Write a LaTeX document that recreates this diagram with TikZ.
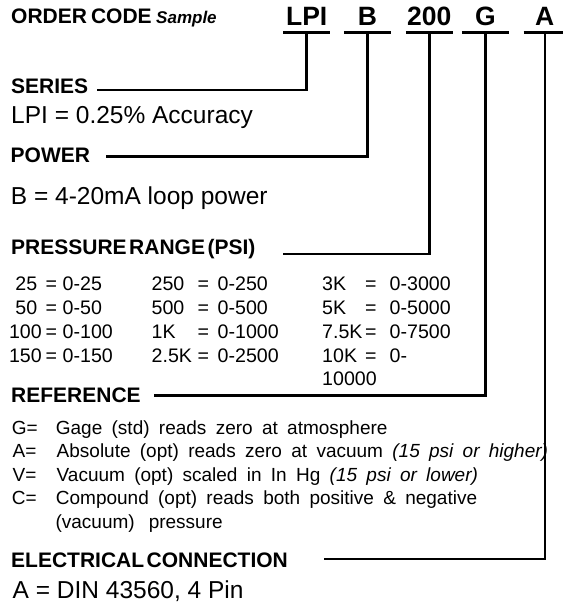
\documentclass[tikz,border=0pt]{standalone}
\usepackage{fontspec}
\setmainfont{Liberation Sans}
\usetikzlibrary{positioning}
\newcommand\headfont{\bfseries\fontsize{21}{24}\selectfont\spaceskip=2.5pt\relax}
\newcommand\reffont{\fontsize{19}{23}\selectfont\spaceskip=9.3pt\relax}

\begin{document}
\begin{tikzpicture}[x=1pt,y=-1pt,
  every node/.style={inner sep=0pt,anchor=base west},
  head/.style={font=\headfont},
  big/.style={font=\fontsize{24.5}{28}\selectfont},
  tab/.style={font=\fontsize{19.6}{23}\selectfont},
  reftext/.style={font=\reffont},
  code/.style={font=\bfseries\fontsize{26.5}{30}\selectfont,anchor=base,
               text depth=6.6pt,minimum width=46.7pt},
  conn/.style={line width=2.6pt}]
\useasboundingbox (0,0) rectangle (562,604);

% order code sample
\node[head] (order) at (11,24) {ORDER\hspace{4pt}CODE\hspace{4.5pt}{\fontsize{17}{20}\selectfont\itshape Sample}};
\node[code] (cLPI) at (306.7,25.7) {LPI};
\node[code] (cB) at (367.5,25.7) {B};
\node[code] (c200) at (429.3,25.7) {200};
\node[code] (cG) at (485.3,25.7) {G};
\node[code,minimum width=42pt] (cA) at (544.7,25.7) {A};

% sections
\node[head] (series) at (11,94) {SERIES};
\node[big] (lpi) at (11,124) {LPI = 0.25\% Accuracy};
\node[head] (power) at (10.5,162.7) {POWER};
\node[big] (loop) at (10.7,204.5) {B = 4-20mA loop power};
\node[head] (range) at (11,254) {PRESSURE RANGE (PSI)};
\node[head] (reference) at (11,402.5) {REFERENCE};
\node[head] (elec) at (11,567.3) {ELECTRICAL CONNECTION};
\node[big] (din) at (12.5,598.3) {A = DIN 43560, 4 Pin};

% pressure ranges
\foreach \i/\y/\xa/\na/\ra/\nb/\rb/\nc/\rc in {
  1/290.7/15.2/25/0-25/250/0-250/3K/0-3000,
  2/314.5/15.2/50/0-50/500/0-500/5K/0-5000,
  3/338.3/8.9/100/0-100/1K/0-1000/7.5K/0-7500,
  4/362.1/8.9/150/0-150/2.5K/0-2500/10K/0-}
{
  \node[tab] (na\i) at (\xa,\y) {\na};
  \node[tab] (ea\i) at (45.5,\y) {=};
  \node[tab] (ra\i) at (62.5,\y) {\ra};
  \node[tab] (nb\i) at (151.5,\y) {\nb};
  \node[tab] (eb\i) at (197.5,\y) {=};
  \node[tab] (rb\i) at (217.5,\y) {\rb};
  \node[tab] (nc\i) at (322,\y) {\nc};
  \node[tab] (ec\i) at (365,\y) {=};
  \node[tab] (rc\i) at (389.5,\y) {\rc};
}
\node[tab] (rc5) at (322,385.9) {10000};

% reference types
\node[reftext] (kG) at (11.7,434) {G=};
\node[reftext] (dG) at (55.7,434) {Gage (std) reads zero at atmosphere};
\node[reftext] (kA) at (12.5,457.5) {A=};
\node[reftext] (dA) at (56.5,457.5) {Absolute (opt) reads zero at vacuum \textit{(15 psi or higher)}};
\node[reftext] (kV) at (12.5,481) {V=};
\node[reftext] (dV) at (56.5,481) {Vacuum (opt) scaled in In Hg \textit{(15 psi or lower)}};
\node[reftext] (kC) at (11.7,504.5) {C=};
\node[reftext] (dC) at (55.7,504.5) {Compound (opt) reads both positive \& negative};
\node[reftext] (dC2) at (55.4,528) {(vacuum)\hspace{14pt}pressure};

% leader lines
\coordinate (sSeries) at (96.7,90);
\coordinate (sPower) at (106,156.7);
\coordinate (sRange) at (282.7,254);
\coordinate (sRef) at (154,395.5);
\coordinate (sElec) at (324,559);
\foreach \c in {cLPI,cB,c200,cG,cA} \draw[conn] (\c.south west) -- (\c.south east);
\foreach \c/\e in {cLPI/sSeries,cB/sPower,c200/sRange,cG/sRef}
  \draw[conn] (\c.south) |- (\e);
\draw[conn,line width=2pt] (cA.south) |- (sElec);
\end{tikzpicture}
\end{document}
